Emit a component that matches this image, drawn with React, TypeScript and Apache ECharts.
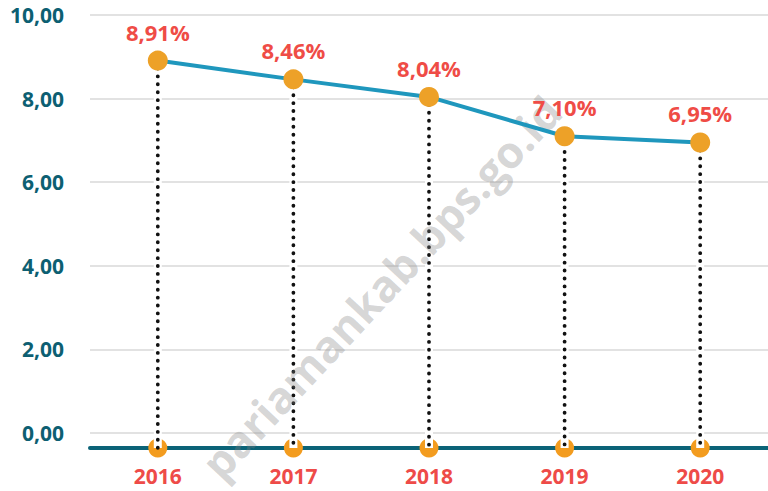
import React, { useEffect, useRef } from "react";
import * as echarts from "echarts";

const categories = ["2016", "2017", "2018", "2019", "2020"];
const values = [8.91, 8.46, 8.04, 7.1, 6.95];
const yTicks = [0, 2, 4, 6, 8, 10];
const axisLevel = -0.36;

const fmt = (v: number) => v.toFixed(2).replace(".", ",");

export default function App() {
  const ref = useRef<HTMLDivElement>(null);
  useEffect(() => {
    if (!ref.current) return;
    const chart = echarts.init(ref.current, undefined, { renderer: "svg" });
    chart.setOption({
      animation: false,
      backgroundColor: "#ffffff",
      grid: { left: 90, right: 0, top: 15, bottom: 58 },
      xAxis: {
        type: "category",
        data: categories,
        boundaryGap: true,
        offset: 15,
        axisLine: { show: true, onZero: false, lineStyle: { color: "#0b6377", width: 4 } },
        axisTick: { show: false },
        axisLabel: {
          margin: 17,
          color: "#ee4b48",
          fontSize: 21,
          fontWeight: "bold",
          fontFamily: "Open Sans",
        },
      },
      yAxis: {
        type: "value",
        min: yTicks[0],
        max: yTicks[yTicks.length - 1],
        interval: 2,
        axisLine: { show: false },
        axisTick: { show: false },
        splitLine: { lineStyle: { color: "#e2e2e2", width: 2 } },
        axisLabel: {
          margin: 26,
          color: "#0d5f72",
          fontSize: 21,
          fontWeight: "bold",
          fontFamily: "Open Sans",
          formatter: (v: number) => fmt(v),
        },
      },
      graphic: [
        {
          type: "text",
          x: 381,
          y: 287,
          rotation: (47 * Math.PI) / 180,
          z: 4,
          silent: true,
          style: {
            text: "pariamankab.bps.go.id",
            fontSize: 44,
            fontWeight: "bold",
            fontFamily: "Open Sans",
            fill: "rgba(130,130,130,0.32)",
            align: "center",
            verticalAlign: "middle",
          },
        },
      ],
      series: [
        {
          type: "scatter",
          z: 2,
          clip: false,
          symbolSize: 19,
          itemStyle: { color: "#f39c1f", opacity: 1 },
          data: categories.map((c) => [c, axisLevel]),
          silent: true,
        },
        {
          type: "custom",
          z: 3,
          silent: true,
          clip: false,
          data: categories.map((c, i) => [i, values[i], axisLevel]),
          encode: { x: 0, y: [1, 2] },
          renderItem: (params: any, api: any) => {
            const top = api.coord([api.value(0), api.value(1)]);
            const bot = api.coord([api.value(0), api.value(2)]);
            return {
              type: "group",
              children: [
                {
                  type: "line",
                  shape: { x1: top[0], y1: top[1], x2: bot[0], y2: bot[1] },
                  style: { stroke: "#ffffff", lineWidth: 8 },
                },
                {
                  type: "line",
                  shape: { x1: top[0], y1: top[1], x2: bot[0], y2: bot[1] },
                  style: {
                    stroke: "#111111",
                    lineWidth: 3.8,
                    lineDash: [0.1, 7.8],
                    lineCap: "round",
                  },
                },
              ],
            };
          },
        },
        {
          type: "line",
          z: 5,
          data: values,
          symbol: "circle",
          symbolSize: 20,
          itemStyle: { color: "#eda128" },
          lineStyle: { color: "#1f97bd", width: 4 },
          label: {
            show: true,
            position: "top",
            distance: 8,
            color: "#ef4c46",
            fontSize: 22,
            fontWeight: "bold",
            fontFamily: "Open Sans",
            formatter: (p: any) => fmt(p.value) + "%",
          },
        },
      ],
    });
    return () => chart.dispose();
  }, []);
  return (
    <div
      ref={ref}
      style={{ position: "fixed", left: 0, top: 0, width: 768, height: 491 }}
    />
  );
}
